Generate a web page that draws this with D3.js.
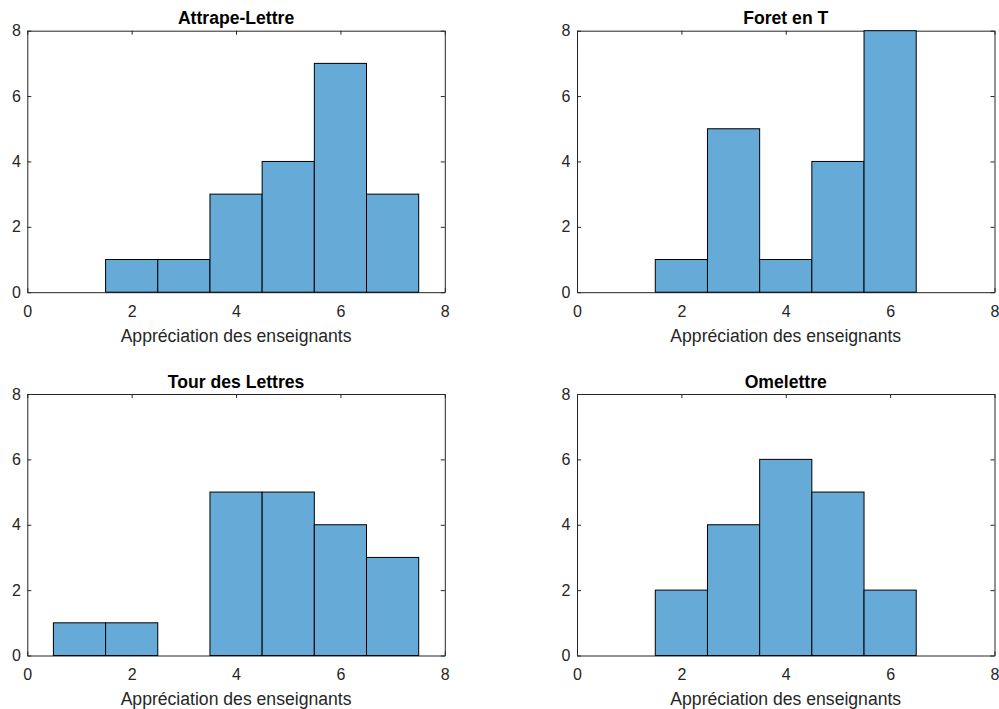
<!DOCTYPE html>
<html>
<head>
<meta charset="utf-8">
<script src="https://cdn.jsdelivr.net/npm/d3@7"></script>
<style>
  html, body { margin: 0; padding: 0; background: #fff; }
  svg { display: block; }
  text { font-family: "Liberation Sans", Arial, Helvetica, sans-serif; }
</style>
</head>
<body>
<svg id="chart" width="999" height="709"></svg>
<script>
// ---- Data ----
const titles = ["Attrape-Lettre", "Foret en T", "Tour des Lettres", "Omelettre"];
const xLabel = "Appréciation des enseignants";
const binWidth = 1;

const attrapeBins   = [2, 3, 4, 5, 6, 7];
const attrapeCounts = [1, 1, 3, 4, 7, 3];

const foretBins   = [2, 3, 4, 5, 6];
const foretCounts = [1, 5, 1, 4, 8];

const tourBins   = [1, 2, 3, 4, 5, 6, 7];
const tourCounts = [1, 1, 0, 5, 5, 4, 3];

const omeletteBins   = [2, 3, 4, 5, 6];
const omeletteCounts = [2, 4, 6, 5, 2];

const xTicks = [0, 2, 4, 6, 8];
const yTicks = [0, 2, 4, 6, 8];
const xDomain = [0, 8];
const yDomain = [0, 8];

// ---- Layout ----
const panels = [
  { title: titles[0], bins: attrapeBins, counts: attrapeCounts, left: 27.3,  top: 30.7 },
  { title: titles[1], bins: foretBins,   counts: foretCounts,   left: 577.0, top: 30.7 },
  { title: titles[2], bins: tourBins,    counts: tourCounts,    left: 27.3,  top: 394 },
  { title: titles[3], bins: omeletteBins,counts: omeletteCounts,left: 577.0, top: 394 }
];
const W = 417.5, H = 261.5;
const axisColor = "#262626";
const fillColor = "#66AAD7";

const svg = d3.select("#chart");

panels.forEach(p => {
  const g = svg.append("g").attr("transform", `translate(${p.left},${p.top})`);
  const x = d3.scaleLinear().domain(xDomain).range([0, W]);
  const y = d3.scaleLinear().domain(yDomain).range([H, 0]);

  const data = p.bins.map((b, i) => ({ x0: b - binWidth / 2, x1: b + binWidth / 2, c: p.counts[i] }));

  const styleAxis = sel => {
    sel.selectAll("path.domain").attr("stroke", axisColor).attr("stroke-width", 1);
    sel.selectAll(".tick line").attr("stroke", axisColor).attr("stroke-width", 1);
    sel.selectAll(".tick text").attr("fill", axisColor).style("font-size", "16px")
      .style("font-family", '"Liberation Sans", Arial, Helvetica, sans-serif');
  };

  // bottom
  g.append("g").attr("transform", `translate(0,${H})`)
    .call(d3.axisBottom(x).tickValues(xTicks).tickFormat(d3.format("d")).tickSizeInner(-4).tickSizeOuter(0).tickPadding(13))
    .call(styleAxis);
  // top
  g.append("g")
    .call(d3.axisTop(x).tickValues(xTicks).tickFormat("").tickSizeInner(-4).tickSizeOuter(0))
    .call(styleAxis);
  // left
  g.append("g")
    .call(d3.axisLeft(y).tickValues(yTicks).tickFormat(d3.format("d")).tickSizeInner(-4).tickSizeOuter(0).tickPadding(6.5))
    .call(styleAxis);
  // right
  g.append("g").attr("transform", `translate(${W},0)`)
    .call(d3.axisRight(y).tickValues(yTicks).tickFormat("").tickSizeInner(-4).tickSizeOuter(0))
    .call(styleAxis);

  // bars (drawn over the axes, like the reference)
  g.selectAll("rect.bar").data(data).enter().append("rect")
    .attr("class", "bar")
    .attr("x", d => x(d.x0))
    .attr("y", d => y(d.c))
    .attr("width", d => x(d.x1) - x(d.x0))
    .attr("height", d => y(0) - y(d.c))
    .attr("fill", fillColor)
    .attr("stroke", "#000")
    .attr("stroke-width", 1);

  // title
  g.append("text")
    .attr("x", W / 2).attr("y", -6.5)
    .attr("text-anchor", "middle")
    .style("font-size", "17.6px").style("font-weight", "bold")
    .attr("fill", "#000")
    .text(p.title);

  // x label
  g.append("text")
    .attr("x", W / 2).attr("y", H + 49.5)
    .attr("text-anchor", "middle")
    .style("font-size", "17.6px")
    .attr("fill", axisColor)
    .text(xLabel);
});
</script>
</body>
</html>
